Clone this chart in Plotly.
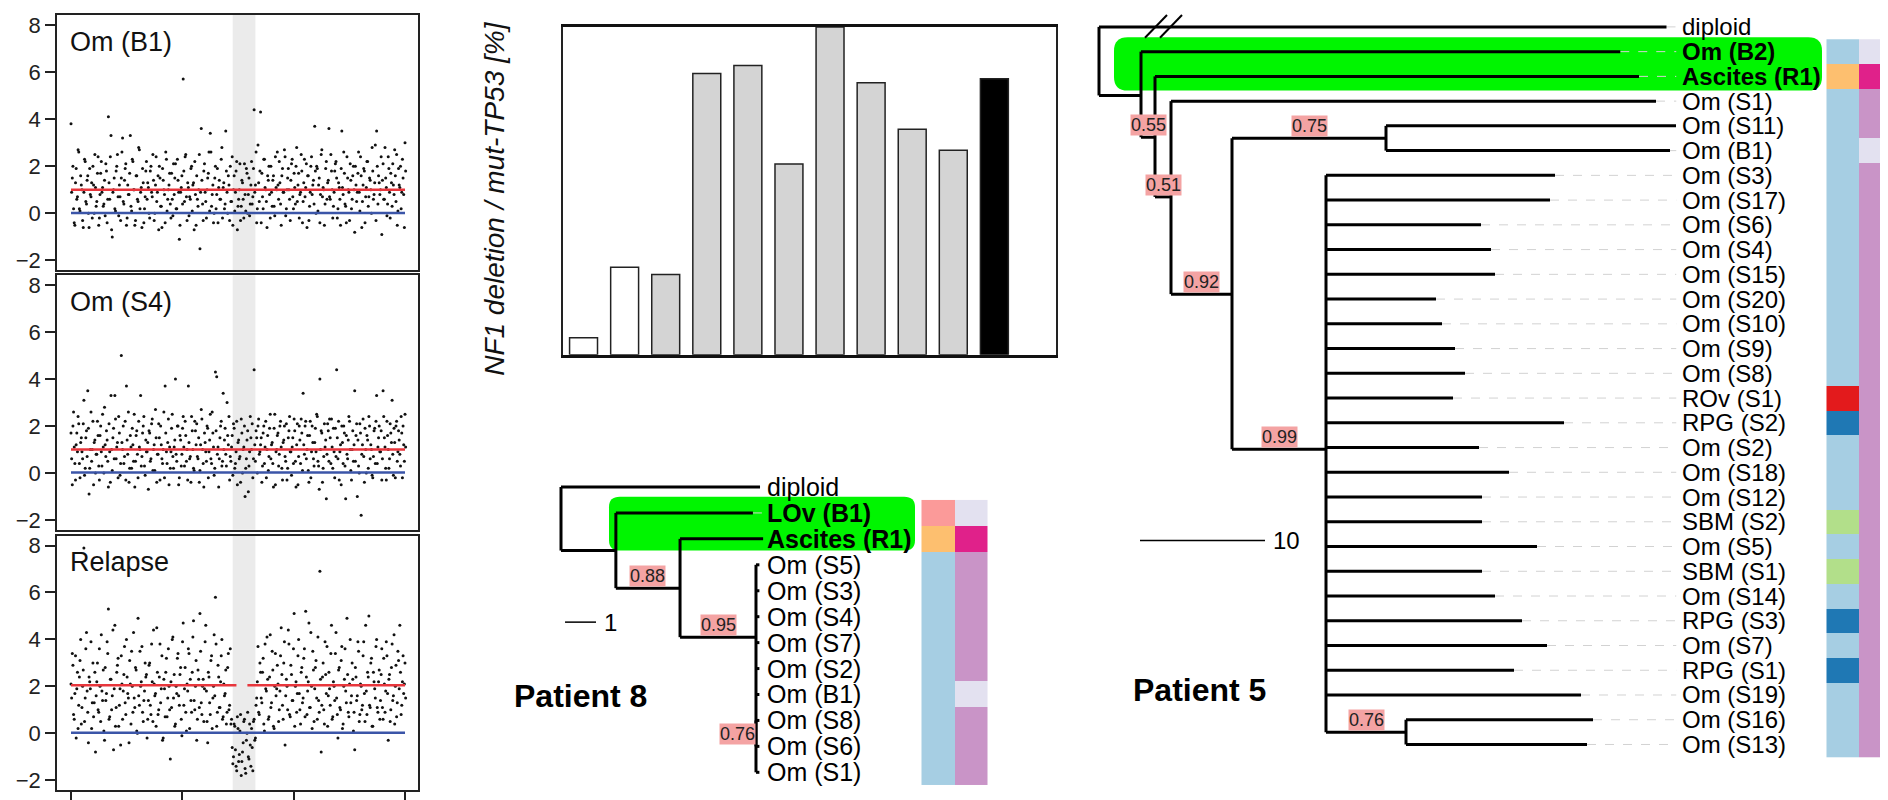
import plotly.graph_objects as go

W, H = 1888, 800  # figure size in px


def px(x):
    return x / W


def py(y):
    return 1 - y / H


# ---------------- copy-number panels (log-ratio per bin, x = bin index) ----------------
# two probe sets per bin: *_a on the bin, *_b half a bin further
cn_panels = ['Om (B1)', 'Om (S4)', 'Relapse']
om_b1_a = [3.8, 1.5, 0.2, -0.5, 1.9, 0.7, 2.6, 0.1, 1.2, -0.3, 0.9, 2.2, 0.4, 1.6, -0.6, 0.8, 1.3, 2.0, 0.0, 1.1,
           0.5, 2.4, -0.2, 1.7, 0.9, 0.3, 1.4, 2.1, -0.4, 4.1, 0.6, 3.3, -1.0, 1.0, 0.2, 1.8, 2.5, -0.1, 0.7, 1.5,
           3.2, 0.4, 1.9, -0.5, 1.2, 0.8, 3.3, 0.1, 2.2, 1.0, -0.3, 1.6, 0.5, 2.7, 0.9, -0.6, 1.3, 0.2, 1.8, 0.6,
           1.1, -0.2, 2.0, 0.7, 1.4, 0.0, 2.4, 0.9, -0.7, 1.5, 0.3, 1.9, 1.0, -0.4, 2.3, 0.6, 1.2, 0.4, 1.7, -0.1,
           0.8, 2.1, 0.2, 1.4, -1.1, 0.9, 1.6, 5.7, 0.5, 2.5, -0.3, 1.1, 0.7, 1.9, 0.1, 1.3, 2.2, -0.5, 0.6, 1.0,
           -1.5, 3.6, 0.4, 1.8, 0.9, -0.2, 1.5, 2.6, 3.4, 0.3, 1.2, 0.0, 2.0, 0.8, -0.4, 1.4, 0.6, 2.8, 1.1, 0.2,
           3.5, 0.9, 1.6, -0.3, 0.5, 2.4, 1.0, 0.1, 1.8, -0.7, 0.6, 2.1, 0.3, 1.3, -0.2, 0.8, 1.9, 0.0, 1.5, 0.4,
           2.2, 0.7, 4.4, 1.2, -0.4, 2.9, 0.5, 4.3, 1.7, 0.2, 2.3, 1.0, -0.6, 1.4, 0.8, 2.0, 0.3, 1.6, -0.1, 1.1,
           2.6, 0.6, 1.3, -0.5, 1.9, 0.9, 2.4, 0.2, 1.5, 1.0, -0.3, 2.1, 0.7, 1.7, 0.4, 2.8, 1.2, -0.2, 0.9, 1.8,
           0.5, 2.3, 1.1, -0.6, 1.6, 0.3, 2.0, 0.8, 1.4, 3.7, 0.0, 1.9, 1.2, -0.4, 2.5, 0.7, 1.0, 0.4, 2.2, 1.3,
           3.6, 0.6, 1.8, -0.2, 0.9, 2.1, 1.5, 0.2, 1.1, -0.5, 3.5, 0.8, 1.7, 0.3, 2.4, 1.0, -0.3, 1.4, 0.6, 2.0,
           -0.8, 1.2, 0.9, 2.6, 0.1, 1.6, 0.5, 1.9, -0.4, 1.1, 2.2, 0.7, 1.4, 0.0, 1.8, 0.8, 2.9, 3.5, 0.4, 1.3,
           1.0, -0.9, 2.1, 0.6, 1.5, -0.1, 2.4, 0.9, 1.7, 0.3, 1.2, 2.7, 0.5, -0.5, 1.9, 1.1, 0.2, 2.3, 0.8, 3.0]
om_b1_b = [0.9, 2.0, -0.4, 1.3, 0.6, 2.7, 0.2, 1.6, 1.0, -0.6, 2.3, 0.5, 1.4, 0.0, 1.9, 0.7, -0.2, 1.2, 2.5, 0.3,
           1.7, -0.5, 0.8, 2.2, 1.1, 0.4, -0.1, 1.8, 0.6, 1.3, 2.4, -0.7, 0.9, 1.5, 0.1, 2.0, 0.7, 1.2, -0.3, 2.6,
           0.5, 1.4, 2.1, -0.2, 0.8, 1.7, 0.3, 2.3, 1.0, -0.5, 1.6, 0.6, 2.8, 0.2, 1.1, 1.9, -0.4, 0.7, 2.2, 1.3,
           0.0, 1.8, 0.9, 2.5, -0.3, 1.2, 0.5, 1.6, 2.0, 0.3, -0.6, 1.4, 0.8, 2.6, 0.1, 1.0, 1.7, -0.2, 0.6, 2.1,
           1.5, 0.2, 2.3, 0.9, -0.5, 1.1, 0.4, 1.8, 2.4, 0.7, 1.3, -0.1, 0.6, 2.0, 1.2, -0.7, 0.8, 1.6, 0.3, 2.5,
           0.9, 1.4, -0.3, 2.1, 0.5, 1.0, 1.7, 0.1, 2.6, 0.8, -0.4, 1.5, 0.2, 1.9, 1.1, 0.6, 2.3, -0.2, 1.3, 0.4,
           1.8, 0.0, 1.2, 2.0, 0.5, -0.5, 1.6, 0.9, 2.2, 0.3, 1.0, -0.3, 1.4, 0.6, 2.1, 0.1, 1.7, 0.8, -0.1, 1.2,
           0.4, 1.9, 0.9, 2.6, 0.2, 1.3, 1.8, -0.4, 0.7, 2.3, 1.1, 0.5, 1.6, 2.0, -0.2, 0.9, 1.4, 0.3, 2.4, 1.0,
           1.2, 2.2, 0.4, 1.6, 0.9, 2.7, -0.1, 1.0, 1.9, 0.6, 1.4, 2.3, 0.2, 1.1, 2.0, 0.5, 1.7, 0.8, 2.5, -0.4,
           1.3, 0.7, 2.1, 1.6, -0.3, 0.9, 2.4, 1.2, 0.4, 1.8, 2.0, 0.1, 1.5, 0.8, 2.7, 1.1, -0.5, 1.9, 0.6, 1.4,
           0.7, 2.5, 1.0, 0.3, 1.8, 2.2, -0.2, 1.3, 0.6, 1.9, 1.1, 2.6, 0.4, -0.4, 1.5, 0.9, 2.1, 0.2, 1.6, 1.0,
           2.0, 0.5, 1.7, 0.9, 2.4, -0.6, 1.2, 1.8, 0.7, 2.2, 0.3, 1.5, 1.0, 2.8, 0.6, 1.3, -0.3, 2.0, 1.6, 0.8,
           2.4, 1.4, 0.6, 2.8, 1.1, 0.4, 1.9, -0.2, 1.3, 2.1, 0.8, 1.6, 2.5, 0.1, 1.2, 2.0, 0.9, 1.5, -0.6, 1.8]
om_s4_a = [1.7, -0.5, 2.6, 0.4, 1.2, 0.9, 2.1, -0.2, 1.5, 0.6, 3.1, 0.2, 1.8, 3.5, -0.9, 1.0, 0.5, 2.2, 1.3, 0.0,
           0.8, 1.6, -0.3, 2.0, 0.3, 1.1, 2.8, 0.7, 1.4, -0.6, 0.9, 3.3, 0.1, 1.9, 3.3, 0.6, 1.3, 2.4, -0.1, 5.0,
           1.0, 0.4, 2.2, 3.7, 0.8, -0.4, 1.6, 0.2, 1.2, 2.5, 0.5, 1.8, -0.2, 1.1, 3.3, 0.7, 2.0, 0.3, 1.4, 0.9,
           -0.7, 1.7, 0.6, 2.3, 1.0, 0.1, 1.5, 0.8, 2.1, -0.3, 1.2, 0.4, 2.6, 3.7, 0.9, 1.3, -0.5, 0.2, 1.9, 0.7,
           1.1, 4.0, 0.5, 2.0, -0.2, 1.4, 0.8, 2.4, 0.3, 1.6, 1.0, 3.7, 0.6, -0.4, 1.8, 0.2, 2.2, 1.2, 0.7, 1.5,
           0.1, 2.7, 1.0, -0.6, 1.3, 0.5, 1.9, 0.9, 2.5, 0.4, 1.7, -0.1, 4.3, 4.1, 1.1, 0.6, 2.0, 0.3, 3.4, 1.4,
           0.8, 3.0, 1.2, -0.3, 0.5, 1.6, 2.1, 0.2, 0.9, -0.5, 1.4, 0.7, 2.3, 0.0, 1.1, -1.0, 0.6, 1.8, 0.3, 2.4,
           1.0, -0.2, 4.4, 0.5, 1.5, 2.0, 0.8, 1.2, -0.4, 1.7, 0.4, 2.2, 1.0, 0.1, 1.9, 0.6, 1.3, -0.6, 2.5, 0.9,
           1.6, 0.3, 2.0, 1.1, -0.3, 1.4, 0.7, 2.1, 0.2, 1.8, 0.9, -0.1, 1.5, 2.3, 0.5, 1.2, -0.5, 2.0, 0.4, 1.7,
           3.4, 0.8, 2.2, 1.0, 0.1, 1.6, -0.2, 2.0, 0.6, 1.3, 0.9, 2.4, 0.3, 4.0, 1.8, -0.4, 0.7, 1.1, -1.1, 2.1,
           0.5, 1.5, 2.3, 0.2, 0.9, 1.9, 4.4, 0.6, -0.3, 1.2, 2.0, 0.4, 1.7, -1.1, 0.8, 1.4, 2.2, 0.1, 1.0, 0.5,
           3.5, 1.6, -1.0, 0.3, 2.1, -1.8, 1.2, 0.7, 1.9, 0.0, 1.4, 2.4, 0.6, 1.0, -0.2, 1.8, 0.4, 3.3, 1.1, 2.0,
           0.9, -0.3, 3.5, 1.5, 0.2, 2.2, 1.0, 0.6, 1.7, 3.1, -0.1, 1.3, 2.0, 0.5, 1.8, 0.8, 2.4, -0.2, 1.2, 2.5]
om_s4_b = [0.6, 2.0, 1.1, -0.3, 1.7, 2.4, 0.4, 1.3, 0.9, 2.1, -0.1, 1.5, 0.7, 1.9, 0.2, 2.6, 1.0, -0.5, 1.4, 0.8,
           2.2, 0.3, 1.6, 0.9, 2.5, 0.0, 1.2, 1.8, 0.5, 2.1, -0.4, 1.0, 1.5, 0.6, 2.3, 1.1, -0.2, 1.7, 0.4, 1.3,
           2.0, 0.7, -0.3, 1.4, 2.6, 0.2, 1.1, 1.9, 0.5, -0.6, 1.6, 0.8, 2.2, 1.0, 0.3, 1.7, 2.4, -0.1, 0.9, 1.3,
           1.8, 0.5, 2.1, 0.1, 1.2, 2.7, -0.4, 0.8, 1.5, 2.0, 0.6, 1.0, -0.2, 1.7, 0.4, 2.3, 1.1, 0.9, 2.5, 0.2,
           1.4, 0.8, 2.0, -0.5, 1.6, 0.3, 1.9, 1.1, 2.2, 0.5, -0.3, 1.3, 0.7, 2.4, 1.0, 0.1, 1.8, 2.1, 0.6, -0.4,
           1.2, 2.3, 0.4, 1.7, 0.9, 2.0, -0.2, 1.4, 0.6, 2.6, 1.1, 0.2, 1.8, 0.8, -0.6, 1.5, 2.2, 0.5, 1.0, 1.9,
           0.3, 1.6, 2.4, 0.7, 1.1, -0.1, 1.9, 0.4, 2.2, 1.3, 0.6, -0.4, 1.7, 1.0, 2.0, 0.2, 1.4, -0.8, 0.9, 1.5,
           2.1, 0.6, 1.2, 1.8, 0.0, 2.3, 0.9, 1.5, 0.3, 2.0, 1.1, -0.2, 1.6, 0.7, 2.5, 1.2, 0.4, 1.9, -0.5, 1.0,
           1.7, 0.8, 2.2, 0.2, 1.3, 2.0, 0.5, -0.3, 1.5, 2.4, 0.9, 1.1, 0.4, 1.8, -0.6, 2.1, 0.7, 1.4, 2.3, 0.1,
           1.2, 2.0, 0.6, 1.6, -0.4, 2.2, 0.9, 1.3, 0.3, 1.9, 2.5, 0.5, -0.7, 1.0, 1.7, 0.2, 2.1, 1.4, 0.8, 1.8,
           2.3, 0.4, 1.1, 1.9, -0.2, 0.7, 1.5, 2.2, 0.9, -0.5, 1.3, 2.0, 0.3, 1.6, 0.6, 2.4, 1.0, -0.3, 1.8, 1.2,
           0.5, 2.1, 1.4, 0.0, 1.7, 0.8, 2.3, -0.4, 1.0, 1.6, 0.2, 2.0, 1.2, -0.1, 0.7, 1.9, 2.2, 0.4, 1.5, 0.9,
           1.8, 0.6, 2.4, 1.1, -0.3, 1.6, 0.2, 2.1, 1.3, 0.8, 1.9, -0.2, 2.2, 0.9, 1.4, 0.3, 1.7, 2.0, 0.5, 1.1]
relapse_a = [2.1, 3.4, 0.8, 1.7, -0.2, 2.6, 1.2, 3.1, 0.4, 2.0, 7.9, 1.5, 4.3, 0.9, 2.4, 1.9, 0.2, 3.0, 1.3, -0.8,
             2.2, 1.0, 3.6, 0.5, 1.8, 2.7, -0.3, 1.4, 3.9, 5.3, 0.7, 2.3, 1.6, -0.7, 4.6, 1.1, 2.9, 0.3, 1.9, 3.3,
             0.6, 2.5, 1.3, 4.0, 1.7, -0.4, 2.1, 3.5, 0.9, 1.5, 2.8, 0.1, 4.9, 1.2, 2.0, 3.7, 0.5, 1.8, 2.4, -0.2,
             1.4, 3.0, 0.8, 2.2, 4.4, 1.6, 0.3, 2.6, 1.0, 3.8, 1.9, -0.3, 2.3, 0.7, 3.2, 1.5, 2.0, -1.1, 1.1, 4.1,
             2.5, 0.4, 1.7, 3.4, 1.2, 2.8, -0.1, 4.7, 1.9, 0.9, 2.1, 3.6, 0.2, 1.4, 2.6, 4.8, 1.0, 3.1, 0.6, 2.3,
             5.1, 1.3, 2.0, 0.5, 3.9, 1.8, -0.4, 2.4, 0.8, 3.3, 1.5, 4.2, 5.8, 0.3, 2.9, 1.1, 2.2, 4.0, 0.7, 1.6,
             2.7, 0.9, 3.4, 1.2, 0.4, -0.6, -1.0, 0.3, -1.4, 0.7, -1.2, 0.1, -1.8, -0.8, 0.5, -1.5, -0.3, 0.9, -1.1, -0.5,
             0.2, -1.6, 0.6, -0.2, 1.5, 3.7, 0.8, 2.6, 1.3, 3.2, 0.1, 1.9, 4.1, 0.6, 2.4, 1.1, 3.5, 0.3, 2.0, 1.6,
             2.9, 0.5, 1.8, 4.5, 1.2, 3.0, -0.5, 2.3, 1.0, 3.8, 0.7, 2.5, 1.4, 5.1, 2.0, 0.9, 3.3, 1.7, 0.4, 2.8,
             1.5, 3.6, 5.2, 0.8, 2.2, 1.1, 4.3, 0.2, 2.7, 1.9, 3.1, 0.6, 1.4, 6.9, -0.8, 2.4, 1.0, 3.9, 1.7, 0.3,
             2.6, 1.2, 4.6, 0.7, 2.0, 3.4, 1.5, -0.2, 2.8, 1.0, 3.7, 0.4, 2.3, 1.8, 4.9, 0.9, 2.1, 1.3, 3.0, 0.1,
             -0.7, 2.4, 1.6, 3.5, 0.8, 2.0, 1.2, 3.9, 0.5, 1.8, 2.6, 5.0, 1.1, 3.2, 0.3, 2.2, 1.5, 4.0, 0.9, 2.7,
             1.4, 3.6, 0.6, 2.1, 1.8, 3.3, -0.3, 2.5, 1.0, 3.8, 1.6, 0.4, 2.9, 1.3, 3.1, 4.6, 0.8, 2.2, 1.7, 3.0]
relapse_b = [1.5, 2.9, 0.6, 3.3, 1.9, 0.2, 2.4, 4.0, 1.1, 2.7, 0.5, 3.6, 1.8, -0.4, 2.2, 3.9, 1.3, 0.7, 2.6, 1.6,
             3.0, 0.9, 2.0, 4.2, 1.4, 0.1, 2.8, 1.7, 3.4, 0.6, 2.3, 1.0, 4.4, 1.9, 0.3, 2.6, 3.2, 1.2, -0.5, 2.1,
             1.8, 3.7, 0.8, 2.4, 1.5, 3.1, 0.4, 2.0, 4.3, 1.1, 2.7, 0.0, 1.6, 3.5, 2.2, 0.9, 1.4, 3.0, 2.5, 0.6,
             2.9, 1.2, 3.8, 0.5, 2.1, 1.7, 4.5, 0.8, 2.4, 1.3, 3.3, -0.2, 1.9, 2.6, 0.7, 3.6, 1.0, 2.2, 4.0, 1.5,
             0.3, 2.0, 3.2, 1.6, 2.5, 0.6, 3.9, 1.2, 2.8, 0.1, 1.8, 3.4, 2.3, 0.9, 4.1, 1.4, 2.0, -0.3, 2.7, 1.1,
             3.5, 0.8, 2.3, 1.9, 4.6, 0.5, 2.6, 1.3, 3.1, 0.2, 2.0, 1.6, 3.8, 0.9, 2.4, 1.1, 3.3, 0.6, 2.1, 1.7,
             0.4, 2.8, 1.0, 3.6, 0.6, -1.3, 0.4, -0.7, -1.6, 0.2, -0.9, 0.8, -1.2, -0.4, 0.6, -1.7, 0.0, -1.0, 0.4, -1.4,
             -0.6, 0.5, -0.3, 1.2, 2.2, 0.9, 3.0, 1.5, 2.6, 0.4, 3.8, 1.8, 2.3, 0.7, 4.2, 1.3, 2.7, 0.2, 3.4, 1.9,
             2.1, 1.0, 3.3, 2.5, 0.6, 3.9, 1.6, 2.0, 4.4, 0.8, 2.9, 1.4, 3.6, 0.3, 2.2, 1.7, 4.0, 1.0, 2.6, 1.3,
             3.2, 0.7, 2.4, 1.8, 4.7, 1.1, 2.0, 3.5, 0.5, 2.8, 1.5, 4.1, 0.9, 2.3, 1.2, 3.0, 0.4, 2.5, 3.7, 1.6,
             1.9, 3.4, 0.6, 2.2, 1.4, 4.3, 0.8, 2.7, 1.1, 3.1, 0.2, 2.0, 3.6, 1.3, 2.5, 0.7, 4.0, 1.6, 2.3, 0.9,
             2.8, 1.4, 3.9, 0.5, 2.1, 1.0, 3.3, 1.7, 4.6, 0.8, 2.4, 1.2, 3.0, 0.3, 2.6, 1.9, 3.7, 1.1, 2.2, 0.6,
             2.5, 1.1, 3.2, 0.9, 3.9, 1.7, 2.3, 0.5, 2.8, 1.4, 4.2, 2.0, 0.7, 3.5, 1.9, 2.6, 1.2, 3.3, 2.1, 1.5]
cn_series = [(om_b1_a, om_b1_b), (om_s4_a, om_s4_b), (relapse_a, relapse_b)]
cn_red_level = [1.0, 1.0, 2.05]           # segment mean of the sample
cn_red_gap = [None, None, (128.3, 136.8)]  # relapse segment interrupted over NF1
nf1_region = (125.4, 143.0)              # NF1 locus (bins)
cn_ticks = [0, 86.3, 172.7, 259]

# ---------------- NF1 deletion / mut-TP53 bars ----------------
bar_values = [5.2, 26.7, 24.5, 85.8, 88.2, 58.2, 100, 83.0, 68.8, 62.4, 84.2]
bar_kind = ['normal', 'normal', 'sample', 'sample', 'sample', 'sample', 'sample',
            'sample', 'sample', 'sample', 'relapse']

# ---------------- Patient 8 tree ----------------
p8_nodes = ['root', 'n1', 'n2', 'n3', 'n4', 'diploid', 'LOv (B1)', 'Ascites (R1)',
            'Om (S5)', 'Om (S3)', 'Om (S4)', 'Om (S7)', 'Om (S2)', 'Om (B1)',
            'Om (S8)', 'Om (S6)', 'Om (S1)']
p8_parent = [None, 'root', 'n1', 'n2', 'n3', 'root', 'n1', 'n2',
             'n3', 'n3', 'n3', 'n3', 'n3', 'n3', 'n4', 'n4', 'n4']
p8_depth = [0, 1.77, 3.84, 6.29, 6.29, 6.42, 6.19, 6.52,
            6.40, 6.40, 6.40, 6.40, 6.40, 6.40, 6.40, 6.40, 6.40]
p8_row = [1.2, 2.45, 3.9, 5.79, 10.0, 0, 1, 2, 3, 4, 5, 6, 7, 8, 9, 10, 11]
p8_support = {'n2': '0.88', 'n3': '0.95', 'n4': '0.76'}
p8_clade = ['LOv (B1)', 'Ascites (R1)']

# ---------------- Patient 5 tree ----------------
p5_nodes = ['root', 'n1', 'n2', 'n3', 'n4', 'n5', 'n6', 'n7',
            'diploid', 'Om (B2)', 'Ascites (R1)', 'Om (S1)', 'Om (S11)', 'Om (B1)',
            'Om (S3)', 'Om (S17)', 'Om (S6)', 'Om (S4)', 'Om (S15)', 'Om (S20)', 'Om (S10)',
            'Om (S9)', 'Om (S8)', 'ROv (S1)', 'RPG (S2)', 'Om (S2)', 'Om (S18)', 'Om (S12)',
            'SBM (S2)', 'Om (S5)', 'SBM (S1)', 'Om (S14)', 'RPG (S3)', 'Om (S7)', 'RPG (S1)',
            'Om (S19)', 'Om (S16)', 'Om (S13)']
p5_parent = [None, 'root', 'n1', 'n2', 'n3', 'n4', 'n4', 'n6',
             'root', 'n1', 'n2', 'n3', 'n5', 'n5',
             'n6', 'n6', 'n6', 'n6', 'n6', 'n6', 'n6',
             'n6', 'n6', 'n6', 'n6', 'n6', 'n6', 'n6',
             'n6', 'n6', 'n6', 'n6', 'n6', 'n6', 'n6',
             'n6', 'n7', 'n7']
p5_depth = [0, 3.36, 4.48, 5.76, 10.64, 22.96, 18.16, 24.56,
            45.4, 41.7, 43.2, 44.56, 46.16, 45.68,
            36.48, 36.08, 30.56, 31.36, 31.68, 26.96, 27.44,
            28.48, 29.28, 28.32, 37.2, 30.4, 32.8, 30.64,
            30.64, 35.04, 30.64, 31.68, 33.84, 35.84, 33.2,
            38.56, 39.52, 39.04]
p5_row = [1.4, 2.77, 4.46, 6.87, 10.8, 4.5, 17.07, 28.51] + list(range(30))
p5_support = {'n2': '0.55', 'n3': '0.51', 'n4': '0.92', 'n5': '0.75', 'n6': '0.99', 'n7': '0.76'}
p5_clade = ['Om (B2)', 'Ascites (R1)']

# site / sample-type colours for the annotation strips
site_colors = {'Om': '#a6cee3', 'Ascites': '#fdbf6f', 'LOv': '#fb9a99',
               'ROv': '#e31a1c', 'RPG': '#1f78b4', 'SBM': '#b2df8a'}
type_colors = {'B': '#e3e1f0', 'R': '#e0218a', 'S': '#c994c7'}
bar_fill = {'normal': 'white', 'sample': '#d4d4d4', 'relapse': 'black'}

FONT = 'Liberation Sans, Arial, sans-serif'
fig = go.Figure()
shapes, annotations = [], []
layout_axes = {}

# ---------------- copy-number panels ----------------
cn_box_px = [(5, 262), (267, 523), (529, 785)]
bin_scale = (397 - 63) / 259.0  # px per bin
for i, (name, (vals_a, vals_b)) in enumerate(zip(cn_panels, cn_series)):
    sfx = '' if i == 0 else str(i + 1)
    xa, ya = 'x' + sfx, 'y' + sfx
    n = len(vals_a)
    fig.add_trace(go.Scatter(x=list(range(n)) + [k + 0.5 for k in range(len(vals_b))],
                             y=vals_a + vals_b, mode='markers',
                             marker=dict(size=3, color='#111'),
                             xaxis=xa, yaxis=ya, hoverinfo='skip'))
    fig.add_trace(go.Scatter(x=[0, n - 1], y=[0.02, 0.02], mode='lines',
                             line=dict(color='#3b55a8', width=2.5), xaxis=xa, yaxis=ya))
    lvl = cn_red_level[i]
    if cn_red_gap[i] is None:
        rx, ry = [0, n - 1], [lvl, lvl]
    else:
        g0, g1 = cn_red_gap[i]
        rx, ry = [0, g0, None, g1, n - 1], [lvl, lvl, None, lvl, lvl]
    fig.add_trace(go.Scatter(x=rx, y=ry, mode='lines',
                             line=dict(color='#e8363c', width=2.5), xaxis=xa, yaxis=ya))
    shapes.append(dict(type='rect', xref=xa, yref=ya + ' domain',
                       x0=nf1_region[0], x1=nf1_region[1], y0=0, y1=1,
                       fillcolor='#ebebeb', line=dict(width=0), layer='below'))
    top, bot = cn_box_px[i]
    last = i == len(cn_panels) - 1
    layout_axes['xaxis' + sfx] = dict(
        domain=[px(49), px(410)], range=[(49 - 63) / bin_scale, (410 - 63) / bin_scale],
        anchor=ya, showline=True, mirror=True, linecolor='#222', linewidth=1.5,
        showgrid=False, zeroline=False, ticks='outside' if last else '',
        tickvals=cn_ticks, ticklen=12, tickwidth=1.5, tickcolor='#222',
        showticklabels=False, fixedrange=True)
    layout_axes['yaxis' + sfx] = dict(
        domain=[py(bot), py(top)], range=[-2.42, 8.42], anchor=xa,
        showline=True, mirror=True, linecolor='#222', linewidth=1.5,
        showgrid=False, zeroline=False, ticks='outside', ticklen=10, tickwidth=1.5,
        tickcolor='#222', tickvals=[-2, 0, 2, 4, 6, 8],
        tickfont=dict(size=22, color='#222', family=FONT), fixedrange=True)
    annotations.append(dict(text=name, xref=xa + ' domain', yref=ya + ' domain',
                            x=0.03, y=0.895, xanchor='left', yanchor='middle',
                            showarrow=False, font=dict(size=27, color='#111')))

# ---------------- bar chart ----------------
fig.add_trace(go.Bar(x=list(range(len(bar_values))), y=bar_values, width=0.68,
                     marker=dict(color=[bar_fill[k] for k in bar_kind],
                                 line=dict(color='#222', width=1.5)),
                     xaxis='x4', yaxis='y4', hoverinfo='skip'))
layout_axes['xaxis4'] = dict(domain=[px(555), px(1048)], range=[-0.5, 11.5],
                             anchor='y4', showline=True, mirror=True, linecolor='#111',
                             linewidth=3, showgrid=False, zeroline=False,
                             showticklabels=False, ticks='', fixedrange=True)
layout_axes['yaxis4'] = dict(domain=[py(347), py(17)], range=[0, 100], anchor='x4',
                             showline=True, mirror=True, linecolor='#222', linewidth=1.5,
                             showgrid=False, zeroline=False, showticklabels=False,
                             ticks='', fixedrange=True)
annotations.append(dict(text='<i>NF1 deletion / mut-TP53 [%]</i>', xref='paper', yref='paper',
                        x=px(487), y=py(190), xanchor='center', yanchor='middle',
                        textangle=-90, showarrow=False, font=dict(size=28, color='#111')))


# ---------------- trees ----------------
def tree_lines(nodes, parent, depth, row):
    idx = {n: i for i, n in enumerate(nodes)}
    xs, ys = [], []
    for n, p in zip(nodes, parent):
        if p is None:
            continue
        xs += [depth[idx[p]], depth[idx[n]], None]
        ys += [row[idx[n]], row[idx[n]], None]
    for n in nodes:
        kids = [row[idx[c]] for c, p in zip(nodes, parent) if p == n]
        if kids:
            xs += [depth[idx[n]], depth[idx[n]], None]
            ys += [min(kids), max(kids), None]
    return xs, ys


def rounded_path(x0, x1, y0, y1, rx, ry):
    return (f'M {x0 + rx},{y0} L {x1 - rx},{y0} Q {x1},{y0} {x1},{y0 + ry} '
            f'L {x1},{y1 - ry} Q {x1},{y1} {x1 - rx},{y1} L {x0 + rx},{y1} '
            f'Q {x0},{y1} {x0},{y1 - ry} L {x0},{y0 + ry} Q {x0},{y0} {x0 + rx},{y0} Z')


def strip_colorscale():
    pal = list(site_colors.values()) + list(type_colors.values())
    cs = []
    for k, c in enumerate(pal):
        cs += [[k / len(pal), c], [(k + 1) / len(pal), c]]
    return cs, len(pal)


def draw_tree(ax, nodes, parent, depth, row, support, clade, label_x, font_size,
              strip_x, green, gap):
    xa, ya = 'x' + ax, 'y' + ax
    idx = {n: i for i, n in enumerate(nodes)}
    internal = set(p for p in parent if p is not None)
    leaves = [n for n in nodes if n not in internal]
    # green highlight of the relapse clade
    gx0, gx1, gy0, gy1, grx, gry = green
    shapes.append(dict(type='path', xref=xa, yref=ya, path=rounded_path(gx0, gx1, gy0, gy1, grx, gry),
                       fillcolor='#00f500', line=dict(width=0), layer='below'))
    # dashed connectors leaf -> label
    cx, cy = [], []
    for n in leaves:
        d = depth[idx[n]]
        if d < label_x - gap - 0.2:
            cx += [d, label_x - gap, None]
            cy += [row[idx[n]], row[idx[n]], None]
    fig.add_trace(go.Scatter(x=cx, y=cy, mode='lines', xaxis=xa, yaxis=ya, hoverinfo='skip',
                             line=dict(color='#d2d2d2', width=1, dash='dash')))
    lx, ly = tree_lines(nodes, parent, depth, row)
    fig.add_trace(go.Scatter(x=lx, y=ly, mode='lines', xaxis=xa, yaxis=ya, hoverinfo='skip',
                             line=dict(color='black', width=3)))
    # leaf labels
    for n in leaves:
        txt = f'<b>{n}</b>' if n in clade else n
        annotations.append(dict(text=txt, xref=xa, yref=ya, x=label_x, y=row[idx[n]],
                                xanchor='left', yanchor='middle', showarrow=False,
                                font=dict(size=font_size, color='black')))
    # bootstrap support
    for n, s in support.items():
        d0 = depth[idx[parent[idx[n]]]]
        d1 = depth[idx[n]]
        annotations.append(dict(text=s, xref=xa, yref=ya,
                                x=(d0 + d1) / 2 if d1 > d0 else d1,
                                xanchor='center' if d1 > d0 else 'right',
                                y=row[idx[n]], yanchor='bottom', yshift=1, showarrow=False,
                                bgcolor='#f4a3a3', borderpad=0,
                                font=dict(size=18, color='#222')))
    # site / sample-type strips
    cs, npal = strip_colorscale()
    sites = list(site_colors)
    types = list(type_colors)
    rows, z = [], []
    for n in leaves:
        if n == 'diploid':
            continue
        site = n.split(' ')[0]
        stype = n.split('(')[1][0]
        rows.append(row[idx[n]])
        z.append([sites.index(site), len(sites) + types.index(stype)])
    fig.add_trace(go.Heatmap(x=strip_x, y=rows, z=z, colorscale=cs, zmin=-0.5, zmax=npal - 0.5,
                             showscale=False, xaxis=xa, yaxis=ya, hoverinfo='skip'))


# Patient 8: origin px x=553, 31 px per unit; rows at 480 + 26.1*r
p8_ox, p8_sx, p8_oy, p8_sy = 553, 31.0, 480, 26.1
draw_tree('5', p8_nodes, p8_parent, p8_depth, p8_row, p8_support, p8_clade,
          label_x=(757 - p8_ox) / p8_sx, font_size=25,
          strip_x=[(930 - p8_ox) / p8_sx, (963 - p8_ox) / p8_sx],
          green=((601 - p8_ox) / p8_sx, (907 - p8_ox) / p8_sx, 0.38, 2.45, 0.35, 0.4), gap=0.1)
layout_axes['xaxis5'] = dict(domain=[px(460), px(1000)], anchor='y5', visible=False, fixedrange=True,
                             range=[(460 - p8_ox) / p8_sx, (1000 - p8_ox) / p8_sx])
layout_axes['yaxis5'] = dict(domain=[py(800), py(440)], anchor='x5', visible=False, fixedrange=True,
                             range=[(800 - p8_oy) / p8_sy, (440 - p8_oy) / p8_sy])

# Patient 5: origin px x=1091, 12.5 px per unit; rows at 17 + 24.9*r
p5_ox, p5_sx, p5_oy, p5_sy = 1091, 12.5, 17, 24.9
draw_tree('6', p5_nodes, p5_parent, p5_depth, p5_row, p5_support, p5_clade,
          label_x=(1672 - p5_ox) / p5_sx, font_size=24,
          strip_x=[(1834.5 - p5_ox) / p5_sx, (1866.5 - p5_ox) / p5_sx],
          green=((1106 - p5_ox) / p5_sx, (1814 - p5_ox) / p5_sx, 0.42, 2.57, 1.1, 0.55), gap=0.3)
layout_axes['xaxis6'] = dict(domain=[px(1040), px(1888)], anchor='y6', visible=False, fixedrange=True,
                             range=[(1040 - p5_ox) / p5_sx, (1888 - p5_ox) / p5_sx])
layout_axes['yaxis6'] = dict(domain=[py(800), py(0)], anchor='x6', visible=False, fixedrange=True,
                             range=[(800 - p5_oy) / p5_sy, (0 - p5_oy) / p5_sy])

# "//" break on the long diploid branch of patient 5
bx, by = [], []
for c in (4.56, 5.76):
    bx += [c - 0.88, c + 0.88, None]
    by += [0.44, -0.48, None]
fig.add_trace(go.Scatter(x=bx, y=by, mode='lines', xaxis='x6', yaxis='y6', hoverinfo='skip',
                         line=dict(color='black', width=2)))

# scale bars
for ax, length, x0, r, fs in (('6', 10, 3.28, 20.76, 24), ('5', 1, 0.13, 5.21, 24)):
    fig.add_trace(go.Scatter(x=[x0, x0 + length], y=[r, r], mode='lines', xaxis='x' + ax,
                             yaxis='y' + ax, hoverinfo='skip', line=dict(color='black', width=1.5)))
    annotations.append(dict(text=str(length), xref='x' + ax, yref='y' + ax, x=x0 + length,
                            xshift=6, y=r, xanchor='left', yanchor='middle', showarrow=False,
                            font=dict(size=fs, color='black')))

annotations.append(dict(text='<b>Patient 8</b>', xref='paper', yref='paper', x=px(572), y=py(690),
                        xanchor='center', yanchor='middle', showarrow=False,
                        font=dict(size=32, color='black')))
annotations.append(dict(text='<b>Patient 5</b>', xref='paper', yref='paper', x=px(1191), y=py(684),
                        xanchor='center', yanchor='middle', showarrow=False,
                        font=dict(size=32, color='black')))

fig.update_layout(width=W, height=H, margin=dict(l=0, r=0, t=0, b=0),
                  paper_bgcolor='white', plot_bgcolor='rgba(0,0,0,0)', showlegend=False,
                  font=dict(family=FONT, color='black'), shapes=shapes, annotations=annotations,
                  **layout_axes)

fig.write_html("out.html")
